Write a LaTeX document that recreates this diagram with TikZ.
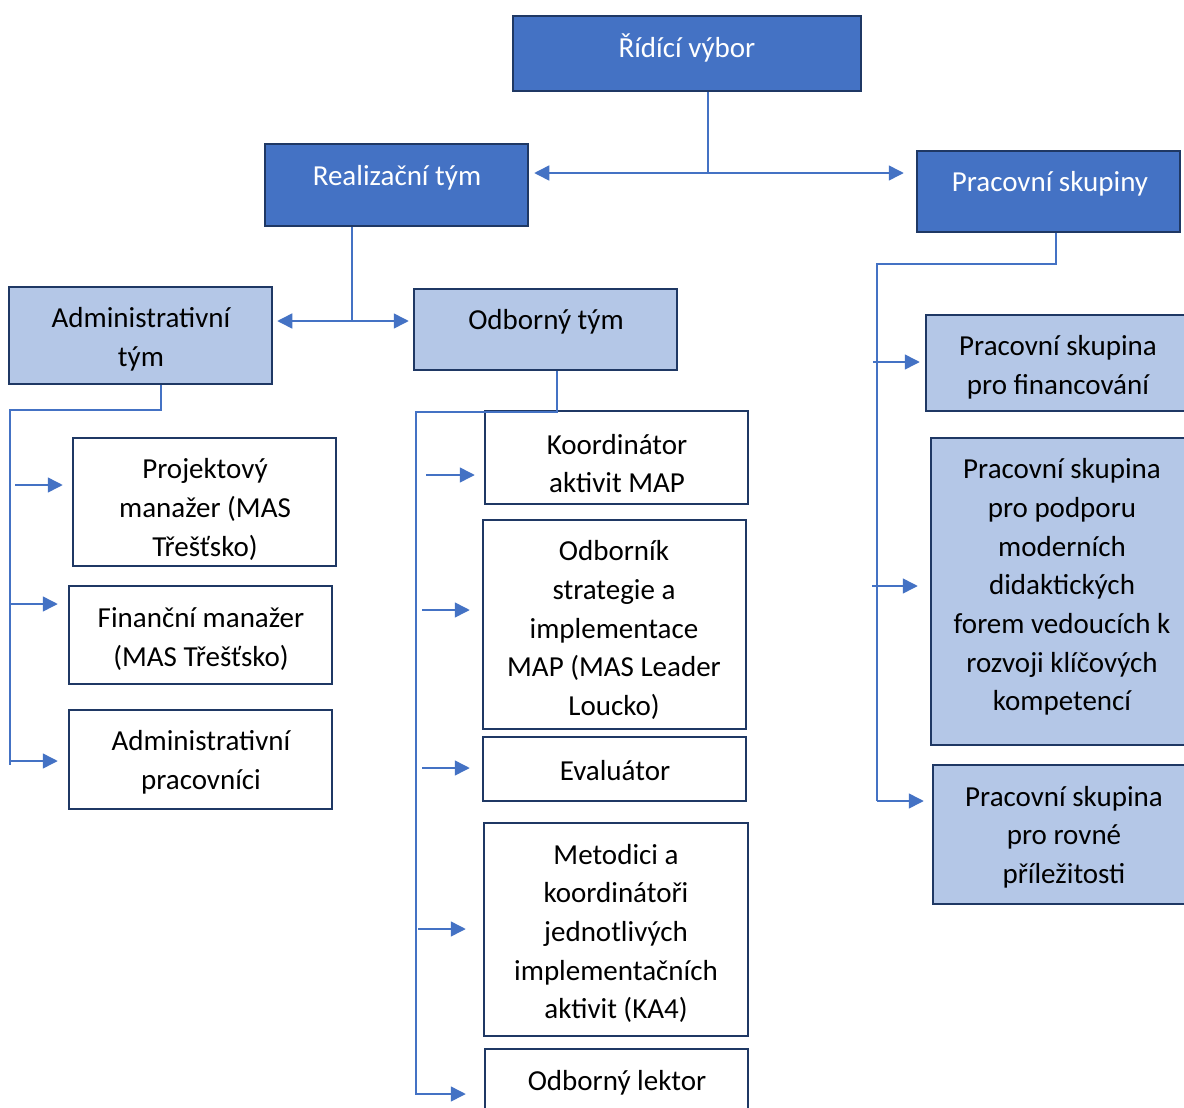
\documentclass[tikz,border=0pt]{standalone}
\usepackage{fontspec}
\setmainfont{Carlito}
\usetikzlibrary{arrows.meta}
\definecolor{dblue}{HTML}{4472C4}
\definecolor{lblue}{HTML}{B4C7E7}
\definecolor{edge}{HTML}{1F3864}
\begin{document}
\begin{tikzpicture}[x=1pt,y=-1pt,
  box/.style={draw=edge,line width=2.5pt,rectangle,inner sep=0pt},
  dark/.style={box,fill=dblue},
  light/.style={box,fill=lblue},
  plain/.style={box,fill=white},
  txt/.style={font=\fontsize{29}{38.7}\selectfont,align=center,inner sep=0pt},
  wtxt/.style={txt,text=white},
  conn/.style={draw=dblue,line width=1.5pt},
  arr/.style={conn,-{Triangle[length=15pt,width=15pt]}}]
\useasboundingbox (0,0) rectangle (1184,1108);
\clip (0,0) rectangle (1184,1108);
\fill[white] (0,0) rectangle (1184,1108);
% boxes
\node[dark,minimum width=348,minimum height=75] (rid) at (687,53.5) {};
\node[dark,minimum width=263,minimum height=82] (real) at (396.5,185) {};
\node[dark,minimum width=263,minimum height=81] (prac) at (1048.5,191.5) {};
\node[light,minimum width=263,minimum height=97] (adm) at (140.5,335.5) {};
\node[light,minimum width=263,minimum height=81] (odb) at (545.5,329.5) {};
\node[plain,minimum width=263,minimum height=128] (proj) at (204.5,502) {};
\node[plain,minimum width=263,minimum height=98] (fin) at (200.5,635) {};
\node[plain,minimum width=263,minimum height=99] (admp) at (200.5,759.5) {};
\node[plain,minimum width=263,minimum height=93] (koord) at (616.5,457.5) {};
\node[plain,minimum width=263,minimum height=209] (strat) at (614.5,624.5) {};
\node[plain,minimum width=263,minimum height=64] (eval) at (614.5,769) {};
\node[plain,minimum width=264,minimum height=213] (met) at (616,929.5) {};
\node[plain,minimum width=263,minimum height=102] (lekt) at (616.5,1100) {};
\node[light,minimum width=264,minimum height=96] (pfin) at (1058,363) {};
\node[light,minimum width=264,minimum height=307] (ppod) at (1063,591.5) {};
\node[light,minimum width=264,minimum height=139] (prov) at (1065,834.5) {};
% texts
\node[wtxt] (trid) at (687,48) {Řídící výbor};
\node[wtxt] (treal) at (397,178) {Realizační tým};
\node[wtxt] (tprac) at (1050,184) {Pracovní skupiny};
\node[txt] (tadm) at (141,339.5) {Administrativní\\tým};
\node[txt] (todb) at (546,322) {Odborný tým};
\node[txt] (tproj) at (205,509.5) {Projektový\\manažer (MAS\\Třešťsko)};
\node[txt] (tfin) at (201,639) {Finanční manažer\\(MAS Třešťsko)};
\node[txt] (tadmp) at (201,762) {Administrativní\\pracovníci};
\node[txt] (tkoord) at (617,463.5) {Koordinátor\\aktivit MAP};
\node[txt] (tstrat) at (614,630) {Odborník\\strategie a\\implementace\\MAP (MAS Leader\\Loucko)};
\node[txt] (teval) at (615,771) {Evaluátor};
\node[txt] (tmet) at (616,933.5) {Metodici a\\koordinátoři\\jednotlivých\\implementačních\\aktivit (KA4)};
\node[txt] (tlekt) at (617,1083) {Odborný lektor};
\node[txt] (tpfin) at (1058,367.5) {Pracovní skupina\\pro financování};
\node[txt] (tppod) at (1062,587) {Pracovní skupina\\pro podporu\\moderních\\didaktických\\forem vedoucích k\\rozvoji klíčových\\kompetencí};
\node[txt] (tprov) at (1064,837) {Pracovní skupina\\pro rovné\\příležitosti};
% top level connectors
\coordinate (j1) at (708,173);
\draw[conn] (rid.south -| j1) -- (j1);
\draw[arr] (j1) -- ([xshift=5]real.east |- j1);
\draw[arr] (j1) -- ([xshift=-12]prac.west |- j1);
% realizacni tym
\coordinate (j2) at (352,321);
\draw[conn] (real.south -| j2) -- (j2);
\draw[arr] (j2) -- ([xshift=4]adm.east |- j2);
\draw[arr] (j2) -- ([xshift=-4]odb.west |- j2);
% administrativni tym tree
\coordinate (a1) at (161,410);
\coordinate (a2) at (10,410);
\coordinate (a3) at (10,765);
\draw[conn] (adm.south -| a1) -- (a1) -- (a2) -- (a3);
\draw[arr] (15,485) -- ([xshift=-9]proj.west |- 0,485);
\draw[arr] (10,604) -- ([xshift=-10]fin.west |- 0,604);
\draw[arr] (10,761) -- ([xshift=-10]admp.west |- 0,761);
% odborny tym tree
\coordinate (b1) at (557,412);
\coordinate (b2) at (416,412);
\coordinate (b3) at (416,1095);
\draw[conn] (odb.south -| b1) -- (b1) -- (b2) -- (b3);
\draw[arr] (426,475) -- ([xshift=-9]koord.west |- 0,475);
\draw[arr] (422,610) -- ([xshift=-12]strat.west |- 0,610);
\draw[arr] (422,768) -- ([xshift=-12]eval.west |- 0,768);
\draw[arr] (418,929) -- ([xshift=-17]met.west |- 0,929);
\draw[arr] (416,1094) -- ([xshift=-18]lekt.west |- 0,1094);
% pracovni skupiny tree
\coordinate (c1) at (1056,264);
\coordinate (c2) at (877,264);
\coordinate (c3) at (877,801);
\draw[conn] (prac.south -| c1) -- (c1) -- (c2) -- (c3);
\draw[arr] (873,362) -- ([xshift=-5]pfin.west |- 0,362);
\draw[arr] (872,586) -- ([xshift=-12]ppod.west |- 0,586);
\draw[arr] (877,801) -- ([xshift=-8]prov.west |- 0,801);
\end{tikzpicture}
\end{document}
